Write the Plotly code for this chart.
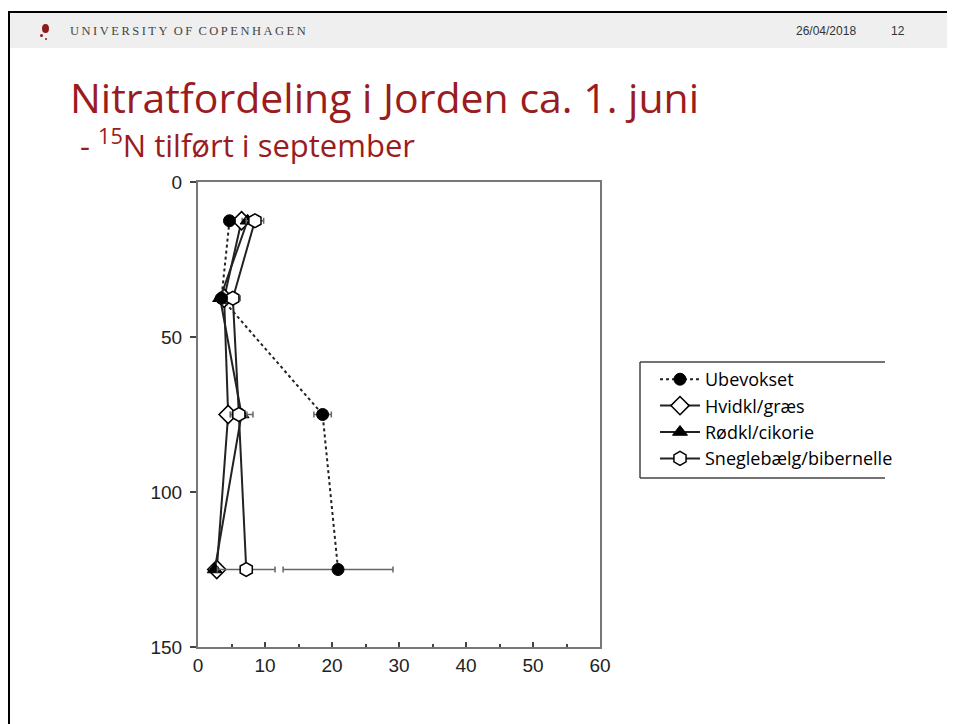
import plotly.graph_objects as go

# ---- data ----
depth = [12.5, 37.5, 75, 125]
series_names = ["Ubevokset", "Hvidkl/græs", "Rødkl/cikorie", "Sneglebælg/bibernelle"]
ubevokset = [4.7, 3.5, 18.6, 20.9]
ubevokset_err = [0.6, 0.5, 1.3, 8.2]
hvidkl = [6.5, 3.9, 4.5, 2.8]
hvidkl_err = [0.8, 0.6, 1.0, 0.6]
roedkl = [7.4, 3.3, 6.5, 2.5]
roedkl_err = [0.8, 0.6, 1.7, 0.5]
snegle = [8.5, 5.2, 6.1, 7.2]
snegle_err = [1.3, 1.1, 1.2, 4.3]
x_ticks = [0, 10, 20, 30, 40, 50, 60]
x_minor = [5, 15, 25, 35, 45, 55]
y_ticks = [0, 50, 100, 150]

W, H = 955, 724
OFF = 8  # page body margin in the browser
L, R, T, B = 198 - OFF, 600 - OFF, 182 - OFF, 647 - OFF


def px(x):
    return (x - OFF - L) / (R - L)


def py(y):
    return (B - (y - OFF)) / (B - T)


fig = go.Figure()

styles = [
    (ubevokset, ubevokset_err, dict(symbol="circle", size=12, color="black", line=dict(color="black", width=1)), "dot"),
    (hvidkl, hvidkl_err, dict(symbol="diamond", size=14, color="white", line=dict(color="black", width=1.5)), "solid"),
    (roedkl, roedkl_err, dict(symbol="triangle-up", size=13, color="black", line=dict(color="black", width=1)), "solid"),
    (snegle, snegle_err, dict(symbol="hexagon", size=14, color="white", line=dict(color="black", width=1.5)), "solid"),
]

traces = []
for rank, (name, (xs, errs, marker, dash)) in enumerate(zip(series_names, styles)):
    traces.append(go.Scatter(
        x=xs, y=depth, name=name, mode="lines+markers",
        line=dict(color="#222", width=2, dash=dash),
        marker=marker, legendrank=rank + 1,
        error_x=dict(type="data", array=errs, visible=True, color="#666", thickness=1.5, width=3),
    ))
# draw Ubevokset on top, as in the reference
for tr in traces[1:] + traces[:1]:
    fig.add_trace(tr)

shapes = []
# header band
shapes.append(dict(type="rect", xref="paper", yref="paper", x0=px(9), x1=px(970), y0=py(13), y1=py(48),
                   fillcolor="#efefef", line=dict(width=0), layer="below"))
# black frame lines
shapes.append(dict(type="line", xref="paper", yref="paper", x0=px(8), x1=px(970), y0=py(12), y1=py(12),
                   line=dict(color="black", width=2)))
shapes.append(dict(type="line", xref="paper", yref="paper", x0=px(9), x1=px(9), y0=py(12), y1=py(740),
                   line=dict(color="black", width=2)))
# logo dots
shapes.append(dict(type="circle", xref="paper", yref="paper", x0=px(42), x1=px(49), y0=py(24), y1=py(33),
                   fillcolor="#8b1a1a", line=dict(width=0)))
shapes.append(dict(type="circle", xref="paper", yref="paper", x0=px(40), x1=px(43), y0=py(34), y1=py(37),
                   fillcolor="#8b1a1a", line=dict(width=0)))
shapes.append(dict(type="circle", xref="paper", yref="paper", x0=px(45), x1=px(47), y0=py(38), y1=py(40),
                   fillcolor="#8b1a1a", line=dict(width=0)))
# legend frame (open on the right, as in the reference)
for (xa, ya, xb, yb) in [(640, 362, 885, 362), (640, 478, 885, 478), (640, 362, 640, 478)]:
    shapes.append(dict(type="line", xref="paper", yref="paper", x0=px(xa), x1=px(xb), y0=py(ya), y1=py(yb),
                       line=dict(color="#444", width=1.5)))

annotations = [
    dict(text="U N I V E R S I T Y   O F   C O P E N H A G E N".replace("   ", "\u2002").replace(" ", "\u2009"),
         x=px(68), y=py(31), xref="paper", yref="paper", xanchor="left", yanchor="middle", showarrow=False,
         font=dict(family="Liberation Serif", size=12.5, color="#444")),
    dict(text="26/04/2018", x=px(826), y=py(31), xref="paper", yref="paper", xanchor="center", yanchor="middle",
         showarrow=False, font=dict(family="Liberation Sans Narrow, Liberation Sans", size=12, color="#333")),
    dict(text="12", x=px(898), y=py(31), xref="paper", yref="paper", xanchor="center", yanchor="middle",
         showarrow=False, font=dict(family="Liberation Sans Narrow, Liberation Sans", size=12, color="#333")),
    dict(text="Nitratfordeling i Jorden ca. 1. juni", x=px(68), y=py(97), xref="paper", yref="paper",
         xanchor="left", yanchor="middle", showarrow=False,
         font=dict(family="Open Sans", size=41, color="#9b1c20")),
    dict(text="- <sup>15</sup>N tilført i september", x=px(78), y=py(144), xref="paper", yref="paper",
         xanchor="left", yanchor="middle", showarrow=False,
         font=dict(family="Open Sans", size=31, color="#9b1c20")),
]

fig.update_layout(
    width=W, height=H,
    margin=dict(l=L, r=W - R, t=T, b=H - B, pad=0),
    paper_bgcolor="white", plot_bgcolor="white",
    shapes=shapes, annotations=annotations,
    showlegend=True,
    legend=dict(x=px(655), y=py(361), xanchor="left", yanchor="top",
                borderwidth=0, bgcolor="rgba(0,0,0,0)",
                font=dict(family="Open Sans", size=18, color="black"),
                traceorder="normal", itemwidth=40, tracegroupgap=0),
    xaxis=dict(range=[0, 60], tickvals=x_ticks, ticks="inside", ticklen=5, tickwidth=1.5,
               tickcolor="#444", showline=True, linecolor="#777", linewidth=2, mirror=True,
               showgrid=False, zeroline=False,
               minor=dict(tickvals=x_minor, ticks="inside", ticklen=3, tickcolor="#444"),
               tickfont=dict(family="Liberation Sans", size=19, color="#222")),
    yaxis=dict(range=[150, 0], tickvals=y_ticks, ticks="outside", ticklen=6, tickwidth=1.5,
               tickcolor="#444", showline=True, linecolor="#777", linewidth=2, mirror=True,
               showgrid=False, zeroline=False, ticklabelstandoff=4,
               tickfont=dict(family="Liberation Sans", size=19, color="#222")),
)

fig.write_html("out.html")
